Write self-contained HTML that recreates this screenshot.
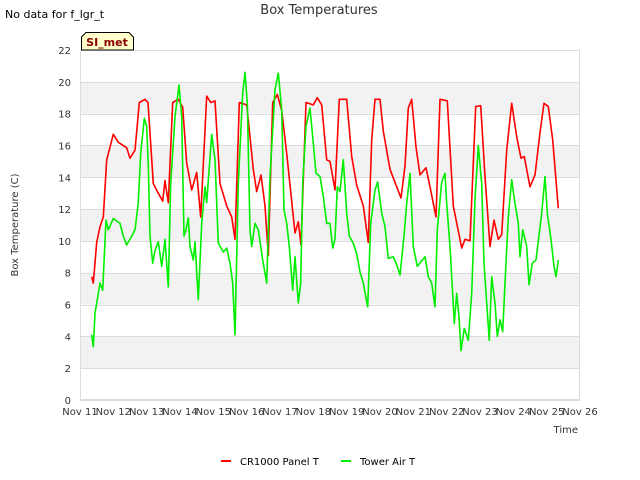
<!DOCTYPE html>
<html><head><meta charset="utf-8"><style>
body{margin:0;background:#fff;}
svg{display:block;font-family:"DejaVu Sans","Liberation Sans",sans-serif;}
</style></head><body>
<svg id="chart" width="640" height="480" viewBox="0 0 640 480" xmlns="http://www.w3.org/2000/svg">
<rect width="640" height="480" fill="#fff"/>
<g id="bands"></g>
<g id="grid"></g>
<rect x="80.5" y="50.5" width="499" height="349" fill="none" stroke="#ddd"/>
<g id="yticks"></g>
<g id="xticks"></g>
<g id="series"></g>
<text x="319" y="14" text-anchor="middle" font-size="13" fill="#333">Box Temperatures</text>
<text x="5" y="18" font-size="11" fill="#000">No data for f_lgr_t</text>
<g>
<path d="M81.5,50 L81.5,37 L86,32.5 L129,32.5 L133.5,37 L133.5,50 Z" fill="#ffffcc" stroke="#000"/>
<text x="107" y="46" text-anchor="middle" font-size="11" font-weight="bold" fill="#8b0000">SI_met</text>
</g>
<text transform="translate(18,225) rotate(-90)" text-anchor="middle" font-size="10" fill="#333">Box Temperature (C)</text>
<text x="578" y="433" text-anchor="end" font-size="10" fill="#333">Time</text>
<g>
<line x1="221" y1="461" x2="231" y2="461" stroke="#ff0000" stroke-width="2"/>
<text x="240" y="465" font-size="10" fill="#000">CR1000 Panel T</text>
<line x1="341" y1="461" x2="351" y2="461" stroke="#00ee00" stroke-width="2"/>
<text x="360" y="465" font-size="10" fill="#000">Tower Air T</text>
</g>
</svg>
<script>
const yTicks=[0,2,4,6,8,10,12,14,16,18,20,22];
const xTickLabels=["Nov 11","Nov 12","Nov 13","Nov 14","Nov 15","Nov 16","Nov 17","Nov 18","Nov 19","Nov 20","Nov 21","Nov 22","Nov 23","Nov 24","Nov 25","Nov 26"];
const panelDays=[0.35,0.40,0.50,0.60,0.70,0.80,1.00,1.15,1.40,1.50,1.65,1.78,1.95,2.04,2.20,2.35,2.48,2.55,2.65,2.78,2.95,3.08,3.20,3.35,3.50,3.62,3.80,3.92,4.05,4.20,4.40,4.55,4.65,4.78,5.00,5.20,5.30,5.43,5.55,5.65,5.78,5.92,6.05,6.20,6.45,6.55,6.63,6.78,7.00,7.12,7.25,7.40,7.50,7.65,7.78,8.00,8.15,8.30,8.50,8.65,8.75,8.85,9.00,9.10,9.30,9.50,9.63,9.75,9.85,9.95,10.08,10.20,10.38,10.50,10.68,10.80,11.02,11.20,11.45,11.55,11.70,11.87,12.02,12.15,12.30,12.42,12.55,12.65,12.80,12.95,13.10,13.23,13.33,13.50,13.65,13.80,13.92,14.05,14.18,14.35];
const panelTemps=[7.75,7.35,9.9,10.9,11.5,15.1,16.7,16.2,15.85,15.2,15.7,18.7,18.9,18.7,13.6,13.0,12.5,13.8,12.4,18.7,18.9,18.4,14.9,13.2,14.3,11.5,19.1,18.7,18.8,13.6,12.2,11.5,10.1,18.7,18.55,14.5,13.1,14.15,12.2,9.1,18.7,19.2,18.2,15.5,10.5,11.2,9.75,18.7,18.55,19.0,18.55,15.1,15.0,13.2,18.9,18.9,15.3,13.5,12.2,9.9,16.35,18.9,18.9,16.9,14.5,13.4,12.7,14.7,18.35,18.9,15.9,14.15,14.6,13.4,11.5,18.9,18.8,12.2,9.55,10.1,10.0,18.45,18.5,14.05,9.65,11.3,10.1,10.4,15.7,18.65,16.55,15.2,15.3,13.4,14.15,16.8,18.65,18.45,16.35,12.05];
const airDays=[0.35,0.40,0.45,0.60,0.68,0.78,0.85,1.00,1.20,1.30,1.40,1.55,1.65,1.75,1.82,1.93,2.00,2.05,2.10,2.18,2.25,2.35,2.45,2.55,2.65,2.72,2.85,2.97,3.05,3.12,3.18,3.25,3.30,3.40,3.45,3.55,3.65,3.75,3.80,3.95,4.05,4.15,4.30,4.40,4.50,4.58,4.65,4.75,4.88,4.95,5.02,5.10,5.15,5.25,5.35,5.48,5.60,5.70,5.85,5.95,6.05,6.12,6.20,6.28,6.38,6.45,6.55,6.62,6.68,6.78,6.90,7.00,7.08,7.20,7.30,7.40,7.50,7.58,7.65,7.72,7.80,7.90,8.00,8.08,8.20,8.30,8.40,8.50,8.63,8.72,8.85,8.93,9.05,9.15,9.25,9.40,9.50,9.60,9.72,9.80,9.90,10.00,10.12,10.35,10.45,10.55,10.65,10.72,10.85,10.95,11.00,11.10,11.17,11.23,11.30,11.37,11.43,11.53,11.65,11.75,11.85,11.95,12.05,12.12,12.20,12.28,12.35,12.45,12.52,12.60,12.68,12.75,12.85,12.95,13.05,13.15,13.20,13.28,13.40,13.47,13.57,13.68,13.78,13.85,13.95,14.02,14.13,14.22,14.28,14.35];
const airTemps=[4.1,3.35,5.45,7.35,6.9,11.3,10.7,11.4,11.1,10.3,9.75,10.3,10.7,12.4,15.5,17.7,17.2,14.7,10.3,8.6,9.4,9.95,8.4,10.1,7.1,13.6,17.8,19.8,17.8,10.3,10.7,11.45,9.65,8.8,9.95,6.3,11.1,13.4,12.4,16.7,15.1,9.85,9.3,9.55,8.6,7.35,4.1,13.6,19.3,20.6,18.65,10.7,9.65,11.1,10.7,8.8,7.35,14.05,19.5,20.55,18.25,11.95,11.1,9.65,6.9,9.0,6.1,7.35,13.6,17.2,18.35,16.15,14.25,14.05,12.8,11.1,11.1,9.55,10.1,13.4,13.1,15.1,11.75,10.3,9.85,9.2,8.05,7.35,5.85,11.1,13.2,13.7,11.75,10.9,8.9,9.0,8.5,7.85,10.3,12.35,14.25,9.65,8.4,9.0,7.75,7.35,5.85,10.7,13.7,14.25,12.35,9.65,7.1,4.8,6.7,5.2,3.1,4.5,3.75,6.7,12.6,16.0,13.6,8.6,6.1,3.75,7.75,6.1,4.0,5.05,4.3,7.35,11.5,13.85,12.35,11.1,9.0,10.7,9.65,7.25,8.6,8.8,10.5,11.75,14.05,11.75,10.1,8.4,7.75,8.8];

const NS='http://www.w3.org/2000/svg';
const X0=80,X1=580,Y0=400,Y1=50,DMAX=15,VMAX=22;
function xScale(d){return X0+d*(X1-X0)/DMAX;}
function yScale(v){return Y0-v*(Y0-Y1)/VMAX;}
function mk(tag,attrs,parent){const e=document.createElementNS(NS,tag);for(const k in attrs)e.setAttribute(k,attrs[k]);parent.appendChild(e);return e;}

const bands=document.getElementById('bands');
for(let v=2;v<VMAX;v+=4){
  const r=mk('rect',{x:X0,y:yScale(v+2),width:X1-X0,height:yScale(v)-yScale(v+2),fill:'#f2f2f2'},bands);
  
  
}
const grid=document.getElementById('grid'),yt=document.getElementById('yticks');
yTicks.forEach(v=>{
  const y=Math.round(yScale(v))+0.5;
  const l=mk('line',{x1:X0,x2:X1,y1:y,y2:y,stroke:'#dcdcdc','stroke-width':1},grid);
  
  
  const t=mk('text',{x:71,y:yScale(v)+4,'text-anchor':'end','font-size':'10',fill:'#333'},yt);
  
  
  t.textContent=v;
});
const xt=document.getElementById('xticks');
xTickLabels.forEach((s,i)=>{
  const t=mk('text',{x:xScale(i),y:415,'text-anchor':'middle','font-size':'10',fill:'#333'},xt);
  
  
  t.textContent=s;
});
const ser=document.getElementById('series');
function line(days,vals,color,name){
  const d=days.map((x,i)=>(i?'L':'M')+xScale(x).toFixed(1)+','+yScale(vals[i]).toFixed(1)).join('');
  const p=mk('path',{d:d,fill:'none',stroke:color,'stroke-width':1.6,'stroke-linejoin':'round'},ser);
  
  
}
line(panelDays,panelTemps,'#ff0000','cr1000-panel-t-line');
line(airDays,airTemps,'#00ee00','tower-air-t-line');
</script>
</body></html>
